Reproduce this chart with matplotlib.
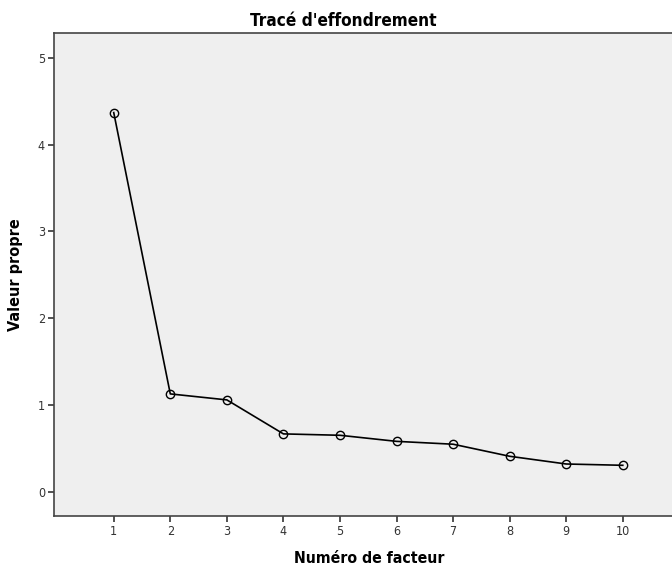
import matplotlib
matplotlib.use("Agg")
import matplotlib.pyplot as plt

# Valeurs propres par facteur
facteurs = [1, 2, 3, 4, 5, 6, 7, 8, 9, 10]
valeurs_propres = [4.37, 1.127, 1.058, 0.666, 0.65, 0.58, 0.547, 0.408, 0.319, 0.304]
graduations_y = [0, 1, 2, 3, 4, 5]

plt.rcParams['font.family'] = ['DejaVu Sans']
plt.rcParams['font.stretch'] = 'condensed'

fig = plt.figure(figsize=(6.72, 5.67), dpi=100)
ax = fig.add_axes([54 / 672, 51.3 / 567, 1 - 54 / 672, 482.5 / 567])
ax.set_facecolor('#efefef')

ax.plot(facteurs, valeurs_propres, color='black', linewidth=1.2,
        marker='o', markersize=6, markerfacecolor='none',
        markeredgecolor='black', markeredgewidth=1.0)

ax.set_xlim(-0.056, 10.87)
ax.set_ylim(-0.277, 5.285)
ax.set_xticks(facteurs)
ax.set_yticks(graduations_y)
ax.tick_params(direction='out', length=4.5, width=1.2, color='#333333',
               labelsize=9, labelcolor='#333333', pad=2)

for cote in ['left', 'bottom', 'top']:
    ax.spines[cote].set_color('#444444')
    ax.spines[cote].set_linewidth(1.2)
ax.spines['right'].set_visible(False)

ax.set_title("Tracé d'effondrement", fontsize=12.3, fontweight='bold', pad=5,
             x=(343 - 54) / (672 - 54))
ax.set_xlabel('Numéro de facteur', fontsize=11.3, fontweight='bold')
ax.set_ylabel('Valeur propre', fontsize=11.6, fontweight='bold')
ax.xaxis.set_label_coords((369 - 54) / 618, -0.073)
ax.yaxis.set_label_coords(-0.05, 0.5)

fig.savefig('out.png', dpi=100)
plt.close(fig)
